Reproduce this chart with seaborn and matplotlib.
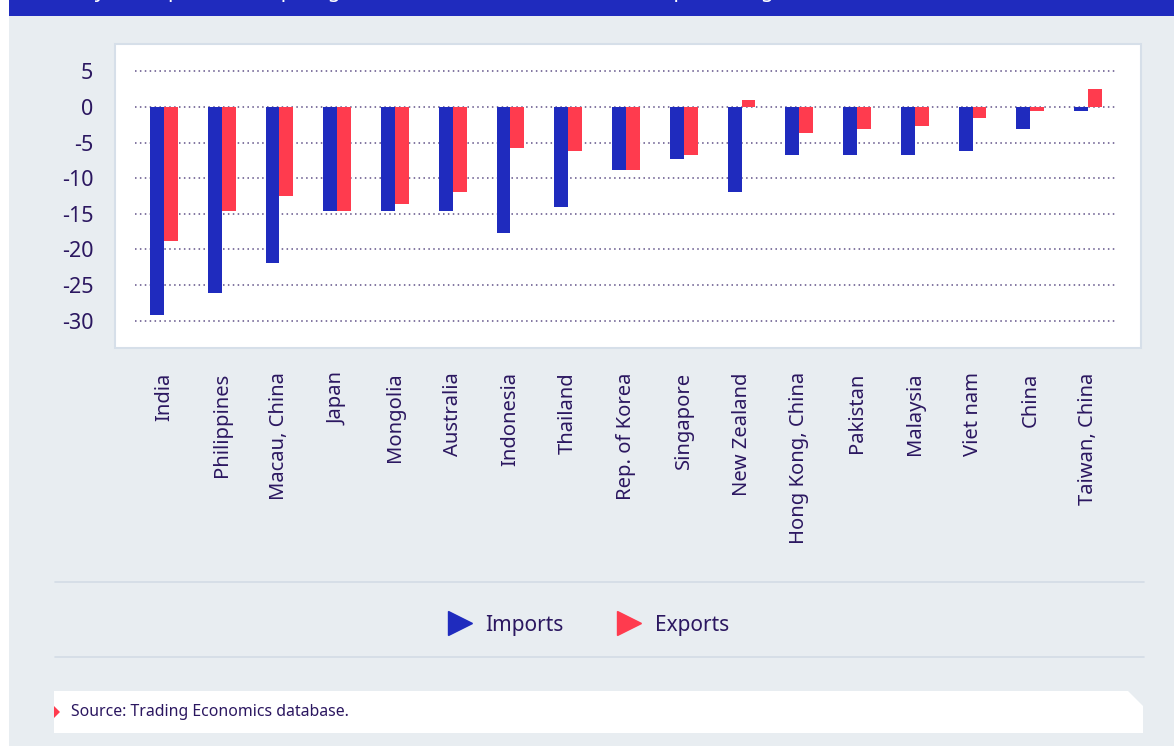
import matplotlib
matplotlib.use("Agg")
import matplotlib.pyplot as plt
import seaborn as sns
import pandas as pd
from matplotlib.patches import Rectangle, Polygon
from matplotlib.lines import Line2D

# ---------------- data ----------------
countries = ["India", "Philippines", "Macau, China", "Japan", "Mongolia", "Australia",
             "Indonesia", "Thailand", "Rep. of Korea", "Singapore", "New Zealand",
             "Hong Kong, China", "Pakistan", "Malaysia", "Viet nam", "China", "Taiwan, China"]
imports = [-29.2, -26.1, -21.9, -14.6, -14.6, -14.6, -17.7, -14.1, -8.9, -7.3, -12.0,
           -6.8, -6.8, -6.8, -6.2, -3.1, -0.5]
exports = [-18.8, -14.6, -12.5, -14.6, -13.6, -12.0, -5.7, -6.2, -8.9, -6.8, 1.0,
           -3.7, -3.1, -2.6, -1.6, -0.5, 2.6]
series = ["Imports", "Exports"]
yticks = [5, 0, -5, -10, -15, -20, -25, -30]
title = "Figure 6. Year-on-year import and export growth, selected economies, 2023 (percentage)"
source = "Source: Trading Economics database."

# ---------------- style ----------------
W, H = 1174, 746
BG = "#E8EDF1"
TXT = "#2B1760"
BLUE = "#1F2BBE"
RED = "#FF3B4E"

sns.set_theme(style="white")
plt.rcParams["font.family"] = ["Noto Sans", "DejaVu Sans"]
plt.rcParams["axes.unicode_minus"] = False


def fx(x):
    return x / W


def fy(y):
    return 1 - y / H


fig = plt.figure(figsize=(W / 100, H / 100), dpi=100, facecolor=BG)

# left white strip and top banner
fig.add_artist(Rectangle((0, 0), fx(9), 1, transform=fig.transFigure,
                         facecolor="white", edgecolor="none", zorder=-2))
fig.add_artist(Rectangle((fx(9), fy(15.6)), 1 - fx(9), 15.6 / H, transform=fig.transFigure,
                         facecolor=BLUE, edgecolor="none", zorder=-2))
# the banner title is cut off at the top edge in the reference
fig.text(fx(792), fy(-3.5), title, color="white", fontsize=15, fontweight="bold",
         ha="right", va="baseline")

# white chart panel
fig.add_artist(Rectangle((fx(115), fy(348)), (1141 - 115) / W, (348 - 44) / H,
                         transform=fig.transFigure, facecolor="white",
                         edgecolor="#D6DFE9", linewidth=1.5, zorder=-1))

# ---------------- chart ----------------
df = pd.DataFrame({
    "country": countries * 2,
    "series": ["Imports"] * len(countries) + ["Exports"] * len(countries),
    "value": imports + exports,
})

ax = fig.add_axes([fx(135), fy(334.8), 982 / W, (334.8 - 57.2) / H])
sns.barplot(data=df, x="country", y="value", hue="series", order=countries,
            hue_order=series, palette={"Imports": BLUE, "Exports": RED},
            width=0.48, saturation=1, linewidth=0, legend=False, ax=ax)

ax.set_facecolor("none")
ax.set_xlim(-0.5, len(countries) - 0.5)
ax.set_ylim(-32, 7)
ax.set_yticks(yticks)
ax.set_xlabel("")
ax.set_ylabel("")
for sp in ax.spines.values():
    sp.set_visible(False)
ax.set_axisbelow(True)
ax.yaxis.grid(True, linestyle=(0, (1, 2.2)), color=TXT, alpha=0.75, linewidth=1.1)
ax.xaxis.grid(False)
ax.tick_params(axis="x", length=0, pad=27, labelsize=14.5, labelcolor=TXT, labelrotation=90)
ax.tick_params(axis="y", length=0, pad=30, labelsize=15.5, labelcolor=TXT)

# ---------------- legend ----------------
for yy in (582, 657):
    fig.add_artist(Line2D([fx(55), fx(1144)], [fy(yy), fy(yy)], transform=fig.transFigure,
                          color="#D3DCE6", linewidth=1.2))
handles = [Line2D([], [], marker=">", linestyle="none", markersize=17,
                  markerfacecolor=c, markeredgecolor=c) for c in (BLUE, RED)]
fig.legend(handles, series, loc="center", bbox_to_anchor=(fx(589), fy(625)), ncol=2,
           frameon=False, fontsize=15, labelcolor=TXT, handlelength=1.0,
           handletextpad=0.75, columnspacing=2.6)

# ---------------- source box ----------------
fig.add_artist(Polygon([(fx(54), fy(691)), (fx(1128), fy(691)), (fx(1143), fy(706)),
                        (fx(1143), fy(733)), (fx(54), fy(733))], closed=True,
                       transform=fig.transFigure, facecolor="white", edgecolor="none",
                       zorder=-1))
fig.add_artist(Polygon([(fx(54), fy(706)), (fx(60), fy(712)), (fx(54), fy(718))],
                       closed=True, transform=fig.transFigure, facecolor=RED,
                       edgecolor="none"))
fig.text(fx(71), fy(712), source, color=TXT, fontsize=11.4, ha="left", va="center")

fig.savefig("out.png", dpi=100, facecolor=BG)
